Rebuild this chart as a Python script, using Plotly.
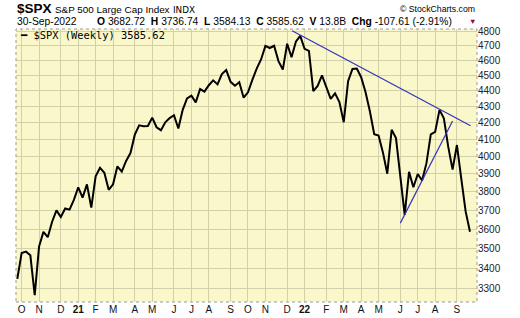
import math
import pandas as pd
import plotly.graph_objects as go

# ---- data: weekly closes of $SPX (week of 28-Sep-2020 .. week of 26-Sep-2022)
close_2020 = [3348.44, 3477.14, 3483.81, 3465.39, 3269.96, 3509.44, 3585.15, 3557.54,
              3638.35, 3699.12, 3663.46, 3709.41, 3703.06, 3756.07]
close_2021 = [3824.68, 3768.25, 3841.47, 3714.24, 3886.83, 3934.83, 3906.71, 3811.15,
              3841.94, 3943.34, 3913.10, 3974.54, 4019.87, 4128.80, 4185.47, 4180.17,
              4181.17, 4232.60, 4173.85, 4155.86, 4204.11, 4229.89, 4247.44, 4166.45,
              4280.70, 4352.34, 4369.55, 4327.16, 4411.79, 4395.26, 4436.52, 4468.00,
              4441.67, 4509.37, 4535.43, 4458.58, 4432.99, 4455.48, 4357.04, 4391.34,
              4471.37, 4544.90, 4605.38, 4697.53, 4682.85, 4697.96, 4594.62, 4538.43,
              4712.02, 4620.64, 4725.79, 4766.18]
close_2022 = [4677.03, 4662.85, 4397.94, 4431.85, 4500.53, 4418.64, 4348.87, 4384.65,
              4328.87, 4204.31, 4463.12, 4543.06, 4545.86, 4488.28, 4392.59, 4271.78,
              4131.93, 4123.34, 4023.89, 3901.36, 4158.24, 4108.54, 3900.86, 3674.84,
              3911.74, 3825.33, 3899.38, 3863.16, 3961.63, 4130.29, 4145.19, 4280.15,
              4228.48, 4057.66, 3924.26, 4067.36, 3873.33, 3693.23, 3585.62]
close = close_2020 + close_2021 + close_2022
week_start = pd.date_range("2020-09-28", periods=len(close), freq="W-MON")

# trend lines drawn on the chart (endpoints)
upper_trend_dates = ["2021-12-14", "2022-09-27"]
upper_trend_values = [4802, 4183]
lower_trend_dates = ["2022-06-06", "2022-08-29"]
lower_trend_values = [3631, 4212]

y_tick_values = list(range(3300, 4801, 100))
month_initials = ["J", "F", "M", "A", "M", "J", "J", "A", "S", "O", "N", "D"]

title_symbol = "$SPX"
title_name = "S&P 500 Large Cap Index"
title_exchange = "INDX"
quote_date = "30-Sep-2022"
quote_open, quote_high, quote_low, quote_close = "3682.72", "3736.74", "3584.13", "3585.62"
quote_volume = "13.8B"
quote_change = "-107.61 (-2.91%)"
legend_label = "$SPX (Weekly) 3585.62"

# ---- month grid ticks at first weekly bar of each month
tick_dates, tick_text = [], []
for prev, cur in zip(week_start[:-1], week_start[1:]):
    if cur.month != prev.month:
        tick_dates.append(cur)
        tick_text.append(f"<b>{cur.year % 100:02d}</b>" if cur.month == 1
                         else month_initials[cur.month - 1])

W, H = 520, 318
L, R, T, B = 16, 43, 29, 16
PW, PH = W - L - R, H - T - B


def px(x):
    return (x - L) / PW


def py(y):
    return (H - B - y) / PH


fig = go.Figure()
fig.add_trace(go.Scatter(x=week_start, y=close, mode="lines",
                         line=dict(color="black", width=2), hoverinfo="skip"))
fig.add_trace(go.Scatter(x=upper_trend_dates, y=upper_trend_values, mode="lines",
                         line=dict(color="#3333BB", width=1.2), hoverinfo="skip"))
fig.add_trace(go.Scatter(x=lower_trend_dates, y=lower_trend_values, mode="lines",
                         line=dict(color="#3333BB", width=1.2), hoverinfo="skip"))

grid = "#D2D1AA"
fig.update_layout(
    width=W, height=H, autosize=False,
    margin=dict(l=L, r=R, t=T, b=B, pad=0, autoexpand=False),
    paper_bgcolor="white", plot_bgcolor="#FAF8CB",
    showlegend=False,
    font=dict(family="Liberation Sans, Arial, sans-serif", color="#111", size=10),
    xaxis=dict(type="date", range=["2020-09-25 22:00", "2022-10-07 07:00"],
               tickvals=tick_dates, ticktext=tick_text, showgrid=True, gridcolor=grid,
               gridwidth=1, ticks="", zeroline=False, showline=False, automargin=False,
               tickfont=dict(size=10, color="#111")),
    yaxis=dict(type="log", side="right",
               range=[math.log10(3238), math.log10(4814)],
               tickvals=y_tick_values, ticktext=[str(v) for v in y_tick_values],
               showgrid=True, gridcolor=grid, gridwidth=1, ticks="", zeroline=False,
               showline=False, automargin=False, tickfont=dict(size=10, color="#222")),
)

fig.add_shape(type="rect", xref="paper", yref="paper", x0=0, x1=1, y0=0, y1=1,
              line=dict(color="#999999", width=1, dash="dot"), layer="above")


def note(text, x, y, size, anchor="left", family="Liberation Sans, Arial, sans-serif",
         color="black"):
    fig.add_annotation(text=text, x=px(x), y=py(y), xref="paper", yref="paper",
                       xanchor=anchor, yanchor="middle", showarrow=False,
                       font=dict(size=size, family=family, color=color), borderpad=0)


note(f"<b>{title_symbol}</b>", 15.5, 8.5, 13.5)
note(title_name, 53.5, 9, 9.9)
note(title_exchange, 172, 9.5, 8.8, family="DejaVu Sans, sans-serif")
note("© StockCharts.com", 476, 9, 8.7, anchor="right")
note(quote_date, 15.5, 21, 10.3)
quote = (f"<b>O</b> {quote_open}  <b>H</b> {quote_high}  <b>L</b> {quote_low}  "
         f"<b>C</b> {quote_close}  <b>V</b> {quote_volume}  <b>Chg</b> {quote_change}")
note(quote, 95.5, 21, 10.3)
note("▼", 472.5, 21, 7.5, anchor="center", color="#8B0A3A")
note("━ " + legend_label, 19, 35, 10.4, family="DejaVu Sans Mono, monospace")

fig.write_html("out.html")
